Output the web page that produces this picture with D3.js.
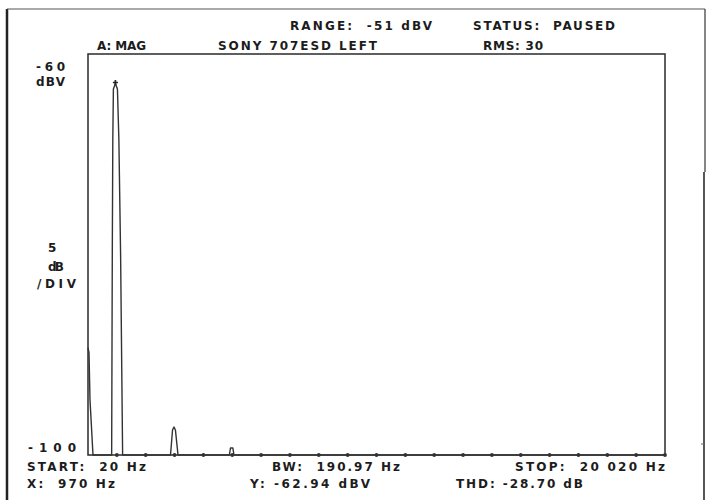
<!DOCTYPE html>
<html>
<head>
<meta charset="utf-8">
<script src="https://cdn.jsdelivr.net/npm/d3@7"></script>
<style>
  html, body { margin: 0; padding: 0; background: #fff; }
  text { font-family: "DejaVu Sans", sans-serif; font-weight: bold; font-size: 12px; fill: #1c1c1c; white-space: pre; }
</style>
</head>
<body>
<svg id="chart" width="710" height="500"></svg>
<script>
// ---- data ----
const traceFreq = [20, 55, 89, 193, 840, 862, 880, 900, 970, 1040, 1090, 1150, 1220,
                   2880, 2950, 3000, 3050, 3140, 4920, 4960, 5040, 5080, 20020];
const traceDb   = [-89.3, -89.8, -94.5, -100, -100, -80, -68.5, -63.5, -62.94, -63.5, -68.5, -80, -100,
                   -100, -97.5, -97.2, -97.5, -100, -100, -99.3, -99.3, -100, -100];
const tickFreqs = [1020, 2020, 3020, 4020, 5020, 6020, 7020, 8020, 9020, 10020,
                   11020, 12020, 13020, 14020, 15020, 16020, 17020, 18020, 19020, 20020];
const markerFreq = 970, markerDb = -62.94;
const freqDomain = [20, 20020];
const dbDomain = [-100, -60];

const headerLabels = [
  {t: "RANGE:  -51 dBV",   x: 290, y: 30, w: 142},
  {t: "STATUS:  PAUSED",   x: 473, y: 30, w: 142},
  {t: "A: MAG",            x: 97,  y: 50, w: 49},
  {t: "SONY 707ESD LEFT",  x: 218, y: 50, w: 159},
  {t: "RMS: 30",           x: 483, y: 50, w: 60}
];
const sideLabels = [
  {t: "-60",  x: 36, y: 71,  w: 29},
  {t: "dBV",  x: 36, y: 86,  w: 29},
  {t: "5",    x: 48, y: 252, w: 7},
  {t: "dB",   x: 48, y: 271, w: 16},
  {t: "/DIV", x: 37, y: 288, w: 39},
  {t: "-100", x: 28, y: 452, w: 48}
];
const footerLabels = [
  {t: "START:  20 Hz",     x: 27,  y: 471, w: 119},
  {t: "BW:  190.97 Hz",    x: 272, y: 471, w: 128},
  {t: "STOP:  20 020 Hz",  x: 515, y: 471, w: 150},
  {t: "X:  970 Hz",        x: 27,  y: 488, w: 88},
  {t: "Y: -62.94 dBV",     x: 250, y: 488, w: 120},
  {t: "THD: -28.70 dB",    x: 456, y: 488, w: 127}
];

// ---- drawing ----
const svg = d3.select("#chart");
const plot = {left: 88, right: 665, top: 54, bottom: 455};
const x = d3.scaleLinear().domain(freqDomain).range([plot.left, plot.right]);
const y = d3.scaleLinear().domain(dbDomain).range([plot.bottom, plot.top]);

// outer frame
svg.append("line").attr("x1", 7).attr("x2", 7).attr("y1", 9).attr("y2", 500)
  .attr("stroke", "#222").attr("stroke-width", 2.5);
svg.append("line").attr("x1", 7).attr("x2", 705).attr("y1", 9).attr("y2", 9)
  .attr("stroke", "#555").attr("stroke-width", 1.2);
svg.append("line").attr("x1", 705).attr("x2", 705).attr("y1", 9).attr("y2", 172)
  .attr("stroke", "#444").attr("stroke-width", 1.3);
svg.append("line").attr("x1", 704).attr("x2", 704).attr("y1", 172).attr("y2", 500)
  .attr("stroke", "#444").attr("stroke-width", 1.8);
svg.append("line").attr("x1", 701).attr("x2", 704).attr("y1", 444).attr("y2", 444)
  .attr("stroke", "#666").attr("stroke-width", 1);

// plot frame
svg.append("rect")
  .attr("x", x(freqDomain[0])).attr("y", y(dbDomain[1]))
  .attr("width", x(freqDomain[1]) - x(freqDomain[0]))
  .attr("height", y(dbDomain[0]) - y(dbDomain[1]))
  .attr("fill", "none").attr("stroke", "#2a2a2a").attr("stroke-width", 1.5);

// tick dots along bottom
svg.append("g").selectAll("circle").data(tickFreqs).join("circle")
  .attr("cx", d => x(d)).attr("cy", y(dbDomain[0]))
  .attr("r", 1.9).attr("fill", "#333");

// trace
const pts = traceFreq.map((f, i) => [f, traceDb[i]]);
const line = d3.line().x(d => x(d[0])).y(d => y(d[1]));
svg.append("path").datum(pts).attr("d", line)
  .attr("fill", "none").attr("stroke", "#333").attr("stroke-width", 1.4)
  .attr("stroke-linejoin", "round");

// marker
svg.append("path")
  .attr("d", d3.symbol().type(d3.symbolCross).size(14)())
  .attr("transform", `translate(${x(markerFreq)},${y(markerDb) - 1})`)
  .attr("fill", "#222");

// text
function drawLabels(arr) {
  svg.append("g").selectAll("text").data(arr).join("text")
    .attr("x", d => d.x).attr("y", d => d.y)
    .attr("textLength", d => d.w).attr("lengthAdjust", "spacing")
    .text(d => d.t);
}
drawLabels(headerLabels);
drawLabels(sideLabels);
drawLabels(footerLabels);
</script>
</body>
</html>
